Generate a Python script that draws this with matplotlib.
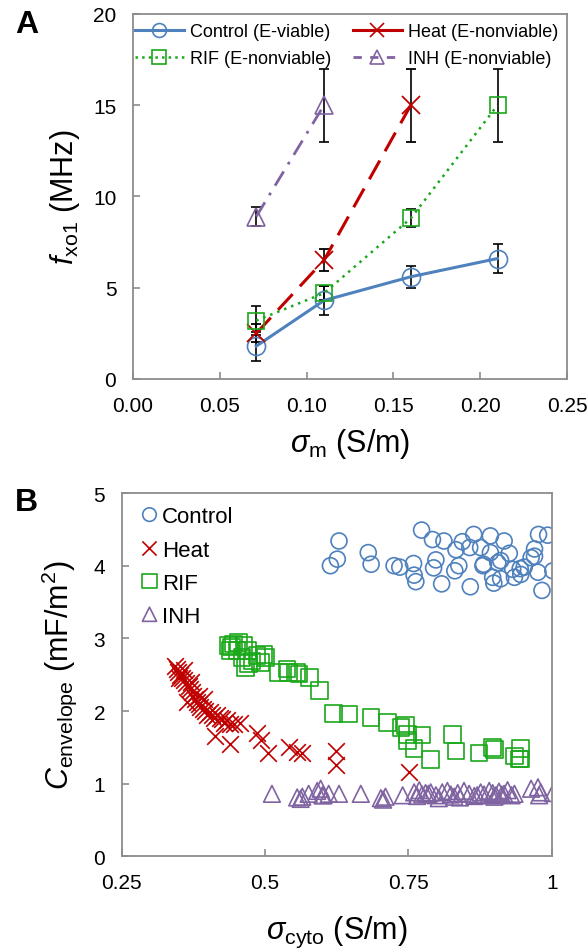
import numpy as np
import matplotlib
matplotlib.use("Agg")
import matplotlib.pyplot as plt
from matplotlib.lines import Line2D

plt.rcParams['font.family'] = ['Liberation Sans', 'DejaVu Sans']
plt.rcParams['mathtext.fontset'] = 'custom'
plt.rcParams['mathtext.rm'] = 'Liberation Sans'
plt.rcParams['mathtext.it'] = 'Liberation Sans:italic'
plt.rcParams['mathtext.bf'] = 'Liberation Sans:bold'

# ---- panel A: f_xo1 vs sigma_m ----
ctrl_x = [0.071, 0.110, 0.160, 0.210]
ctrl_y = [1.8, 4.3, 5.6, 6.6]
ctrl_err = [0.8, 0.8, 0.6, 0.8]
heat_x = [0.071, 0.110, 0.160]
heat_y = [2.5, 6.5, 15.0]
heat_err = [0.5, 0.6, 2.0]
rif_x = [0.071, 0.110, 0.160, 0.210]
rif_y = [3.2, 4.7, 8.8, 15.0]
rif_err = [0.8, 0.4, 0.5, 2.0]
inh_x = [0.071, 0.110]
inh_y = [8.9, 15.0]
inh_err = [0.5, 2.0]

# ---- panel B: C_envelope vs sigma_cyto ----
ctrl_sig = [0.614, 0.626, 0.629, 0.680, 0.685, 0.725, 0.735, 0.759, 0.760, 0.763,
            0.773, 0.792, 0.798, 0.794, 0.808, 0.812, 0.831, 0.838, 0.833, 0.844,
            0.858, 0.857, 0.864, 0.876, 0.881, 0.893, 0.893, 0.897, 0.899, 0.906,
            0.911, 0.917, 0.926, 0.932, 0.935, 0.945, 0.952, 0.964, 0.970, 0.977,
            0.976, 0.983, 0.993, 1.002, 0.880, 0.911, 0.946, 0.970]
ctrl_C = [4.00, 4.09, 4.34, 4.18, 4.02, 4.00, 3.98, 4.03, 3.87, 3.78,
          4.49, 4.36, 4.08, 3.97, 3.75, 4.34, 3.93, 4.00, 4.22, 4.33,
          3.71, 4.25, 4.43, 4.25, 4.02, 4.41, 4.18, 3.84, 3.76, 4.04,
          4.07, 4.34, 4.17, 3.95, 3.84, 3.96, 3.98, 4.11, 4.23, 4.43,
          3.91, 3.66, 4.42, 3.93, 4.00, 3.82, 3.88, 4.13]

heat_sig = [0.343, 0.346, 0.349, 0.352, 0.355, 0.358, 0.359, 0.362, 0.367, 0.369,
            0.372, 0.375, 0.378, 0.381, 0.384, 0.387, 0.392, 0.396, 0.399, 0.404,
            0.407, 0.411, 0.416, 0.421, 0.425, 0.428, 0.434, 0.439, 0.445, 0.457,
            0.384, 0.364, 0.393, 0.350, 0.370, 0.413, 0.439, 0.486, 0.493, 0.506,
            0.541, 0.556, 0.565, 0.623, 0.623, 0.751]
heat_C = [2.62, 2.58, 2.53, 2.49, 2.46, 2.56, 2.42, 2.39, 2.35, 2.30,
          2.26, 2.21, 2.17, 2.12, 2.10, 2.05, 2.03, 2.00, 1.94, 1.98,
          1.94, 1.91, 1.94, 1.91, 1.89, 1.84, 1.87, 1.82, 1.82, 1.84,
          2.21, 2.12, 2.17, 2.45, 2.40, 1.65, 1.55, 1.70, 1.60, 1.42,
          1.50, 1.43, 1.42, 1.45, 1.25, 1.16]

rif_sig = [0.436, 0.445, 0.454, 0.463, 0.439, 0.451, 0.469, 0.460, 0.466, 0.477,
           0.486, 0.492, 0.501, 0.471, 0.442, 0.498, 0.524, 0.538, 0.541, 0.556,
           0.559, 0.578, 0.595, 0.619, 0.646, 0.685, 0.714, 0.737, 0.745, 0.749,
           0.760, 0.774, 0.788, 0.827, 0.833, 0.873, 0.897, 0.900, 0.935, 0.944,
           0.945, 0.946, 0.748]
rif_C = [2.90, 2.92, 2.94, 2.90, 2.83, 2.83, 2.83, 2.74, 2.60, 2.69,
         2.76, 2.67, 2.74, 2.65, 2.88, 2.78, 2.53, 2.58, 2.53, 2.53,
         2.51, 2.46, 2.28, 1.97, 1.96, 1.91, 1.84, 1.77, 1.80, 1.59,
         1.48, 1.67, 1.33, 1.68, 1.45, 1.42, 1.50, 1.47, 1.38, 1.34,
         1.48, 1.34, 1.68]

inh_sig = [0.512, 0.556, 0.562, 0.576, 0.591, 0.597, 0.602, 0.611, 0.629, 0.667,
           0.702, 0.710, 0.740, 0.760, 0.769, 0.774, 0.780, 0.789, 0.798, 0.809,
           0.818, 0.824, 0.830, 0.836, 0.847, 0.856, 0.865, 0.876, 0.882, 0.891,
           0.897, 0.903, 0.908, 0.917, 0.923, 0.935, 0.964, 0.976, 0.981, 1.002,
           0.565, 0.600, 0.706, 0.765, 0.785, 0.803, 0.840, 0.870, 0.900, 0.913,
           0.930, 0.978]
inh_C = [0.86, 0.81, 0.79, 0.86, 0.90, 0.93, 0.84, 0.86, 0.86, 0.86,
         0.80, 0.82, 0.84, 0.88, 0.91, 0.85, 0.87, 0.88, 0.84, 0.88,
         0.90, 0.85, 0.82, 0.87, 0.90, 0.86, 0.83, 0.88, 0.85, 0.90,
         0.87, 0.84, 0.89, 0.86, 0.91, 0.86, 0.93, 0.95, 0.88, 0.87,
         0.82, 0.84, 0.78, 0.83, 0.86, 0.80, 0.81, 0.84, 0.82, 0.85,
         0.84, 0.84]

blue = '#4F81BD'
red = '#C00000'
green = '#1AA81A'
purple = '#8064A2'
frame = '#8C8C8C'

fig = plt.figure(figsize=(5.88, 9.53), dpi=100)
axA = fig.add_axes([0.2262, 0.6013, 0.7381, 0.3830])
axB = fig.add_axes([0.2070, 0.1004, 0.7313, 0.3812])

ebkw = dict(ecolor='black', elinewidth=1.2, capsize=3.5, capthick=1.2)
axA.errorbar(ctrl_x, ctrl_y, yerr=ctrl_err, color=blue, lw=2.2, marker='o', ms=13,
             mfc='none', mec=blue, mew=1.2, label='Control (E-viable)', **ebkw)
axA.errorbar(heat_x, heat_y, yerr=heat_err, color=red, lw=2.2, ls=(0, (7, 3.5)),
             marker='x', ms=13, mec=red, mew=1.3, label='Heat (E-nonviable)', **ebkw)
axA.errorbar(rif_x, rif_y, yerr=rif_err, color=green, lw=1.8, ls=(0, (1, 2)),
             marker='s', ms=12, mfc='none', mec=green, mew=1.2,
             label='RIF (E-nonviable)', **ebkw)
axA.errorbar(inh_x, inh_y, yerr=inh_err, color=purple, lw=2.0, ls=(0, (6, 3, 1, 3)),
             marker='^', ms=13, mfc='none', mec=purple, mew=1.2,
             label='INH (E-nonviable)', **ebkw)

axA.set_xlim(0, 0.25)
axA.set_ylim(0, 20)
axA.set_xticks(np.arange(0, 0.26, 0.05))
axA.set_xticklabels(['%.2f' % v for v in np.arange(0, 0.26, 0.05)])
axA.set_yticks([0, 5, 10, 15, 20])
axA.set_xlabel(r'$\mathit{\sigma}_{\mathrm{m}}$ (S/m)', fontsize=22, labelpad=8)
axA.set_ylabel(r'$\mathit{f}_{\mathrm{xo1}}$ (MHz)', fontsize=22, labelpad=8)

handles, labels = axA.get_legend_handles_labels()
leg_ls = ['-', '-', ':', (0, (3, 3))]
hs = [Line2D([], [], color=h[0].get_color(), ls=ls, lw=h[0].get_linewidth(),
             marker=h[0].get_marker(), ms=10, mfc='none', mec=h[0].get_color(), mew=1.2)
      for h, ls in zip(handles, leg_ls)]
order = [0, 2, 1, 3]  # row-wise: Control, Heat / RIF, INH
axA.legend([hs[i] for i in order], [labels[i] for i in order], loc='upper left',
           bbox_to_anchor=(-0.016, 1.0), ncol=2, frameon=False,
           fontsize=13, handlelength=2.7, handletextpad=0.35, columnspacing=1.2,
           borderpad=0.5, borderaxespad=0.0, labelspacing=0.55)

axB.scatter(ctrl_sig, ctrl_C, s=11.5**2, marker='o', facecolors='none', edgecolors=blue,
            linewidths=1.2, label='Control')
axB.scatter(heat_sig, heat_C, s=12**2, marker='x', color=red, linewidths=1.2, label='Heat')
axB.scatter(rif_sig, rif_C, s=12**2, marker='s', facecolors='none', edgecolors=green,
            linewidths=1.2, label='RIF')
axB.scatter(inh_sig, inh_C, s=12**2, marker='^', facecolors='none', edgecolors=purple,
            linewidths=1.2, label='INH')
axB.set_xlim(0.25, 1.0)
axB.set_ylim(0, 5)
axB.set_xticks([0.25, 0.5, 0.75, 1.0])
axB.set_xticklabels(['0.25', '0.5', '0.75', '1'])
axB.set_yticks([0, 1, 2, 3, 4, 5])
axB.set_xlabel(r'$\mathit{\sigma}_{\mathrm{cyto}}$ (S/m)', fontsize=22, labelpad=16)
axB.set_ylabel(r'$\mathit{C}_{\mathrm{envelope}}$ (mF/m$^2$)', fontsize=22, labelpad=10)
axB.legend(loc='upper left', frameon=False, fontsize=16, handlelength=1.3,
           handletextpad=-0.1, borderpad=0.4, borderaxespad=0.2, labelspacing=0.55,
           markerscale=0.85, scatteryoffsets=[0.5])

for ax in (axA, axB):
    for sp in ax.spines.values():
        sp.set_color(frame)
        sp.set_linewidth(1.3)
    ax.tick_params(direction='in', length=5, width=1.2, color=frame, labelsize=15, pad=12)

fig.text(15 / 588, 1 - 10 / 953, 'A', fontsize=23, fontweight='bold', va='top')
fig.text(15 / 588, 1 - 488 / 953, 'B', fontsize=23, fontweight='bold', va='top')

fig.savefig('out.png', dpi=100)
